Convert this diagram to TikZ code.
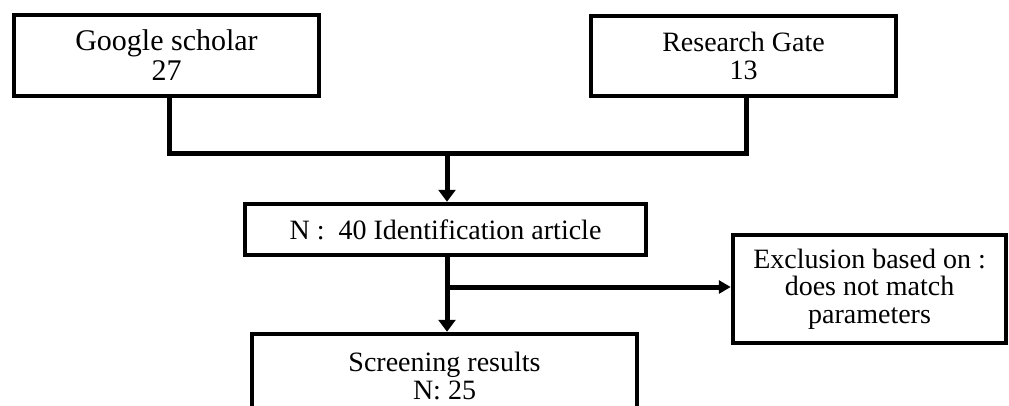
\documentclass[tikz,border=0pt]{standalone}
\usepackage{fontspec}
\setmainfont{Liberation Serif}
\usetikzlibrary{arrows.meta}
\begin{document}
\begin{tikzpicture}[x=1pt,y=-1pt]
    \tikzstyle{box}=[draw=black, line width=4.5pt, fill=white, align=center, inner sep=0pt, font=\fontsize{28}{27.5}\selectfont]
    \tikzstyle{link}=[line width=5pt]
    \tikzstyle{arr}=[line width=5pt, -{Triangle[width=17pt,length=12pt]}]
    \useasboundingbox (0,0) rectangle (1009,405);
    \node[box, minimum width=305pt, minimum height=81pt, font=\fontsize{30}{30}\selectfont] (gs) at (166.5,55.5)
      {Google scholar\\27};
    \node[box, minimum width=305pt, minimum height=80pt] (rg) at (743.5,56)
      {Research Gate\\13};
    \node[box, minimum width=401pt, minimum height=51pt] (ident) at (445.5,229.5)
      {N :\ \ 40 Identification article};
    \node[box, minimum width=385pt, minimum height=84pt] (screen) at (444.5,376)
      {Screening results\\N: 25};
    \node[box, minimum width=273pt, minimum height=108pt] (excl) at (869.5,289)
      {Exclusion based on :\\does not match\\parameters};
    \coordinate (merge) at (447,153);
    \coordinate (split) at (447,287);
    \draw[link] ([xshift=3pt]gs.south) |- (merge) -| ([xshift=3pt]rg.south);
    \draw[arr] (merge) -- (merge |- ident.north);
    \draw[arr] (split |- ident.south) -- (split |- screen.north);
    \draw[arr, -{Triangle[width=13pt,length=12pt]}] (split) -- (split -| excl.west);
    %\draw[link] (ident) -- (excl);
\end{tikzpicture}
\end{document}
